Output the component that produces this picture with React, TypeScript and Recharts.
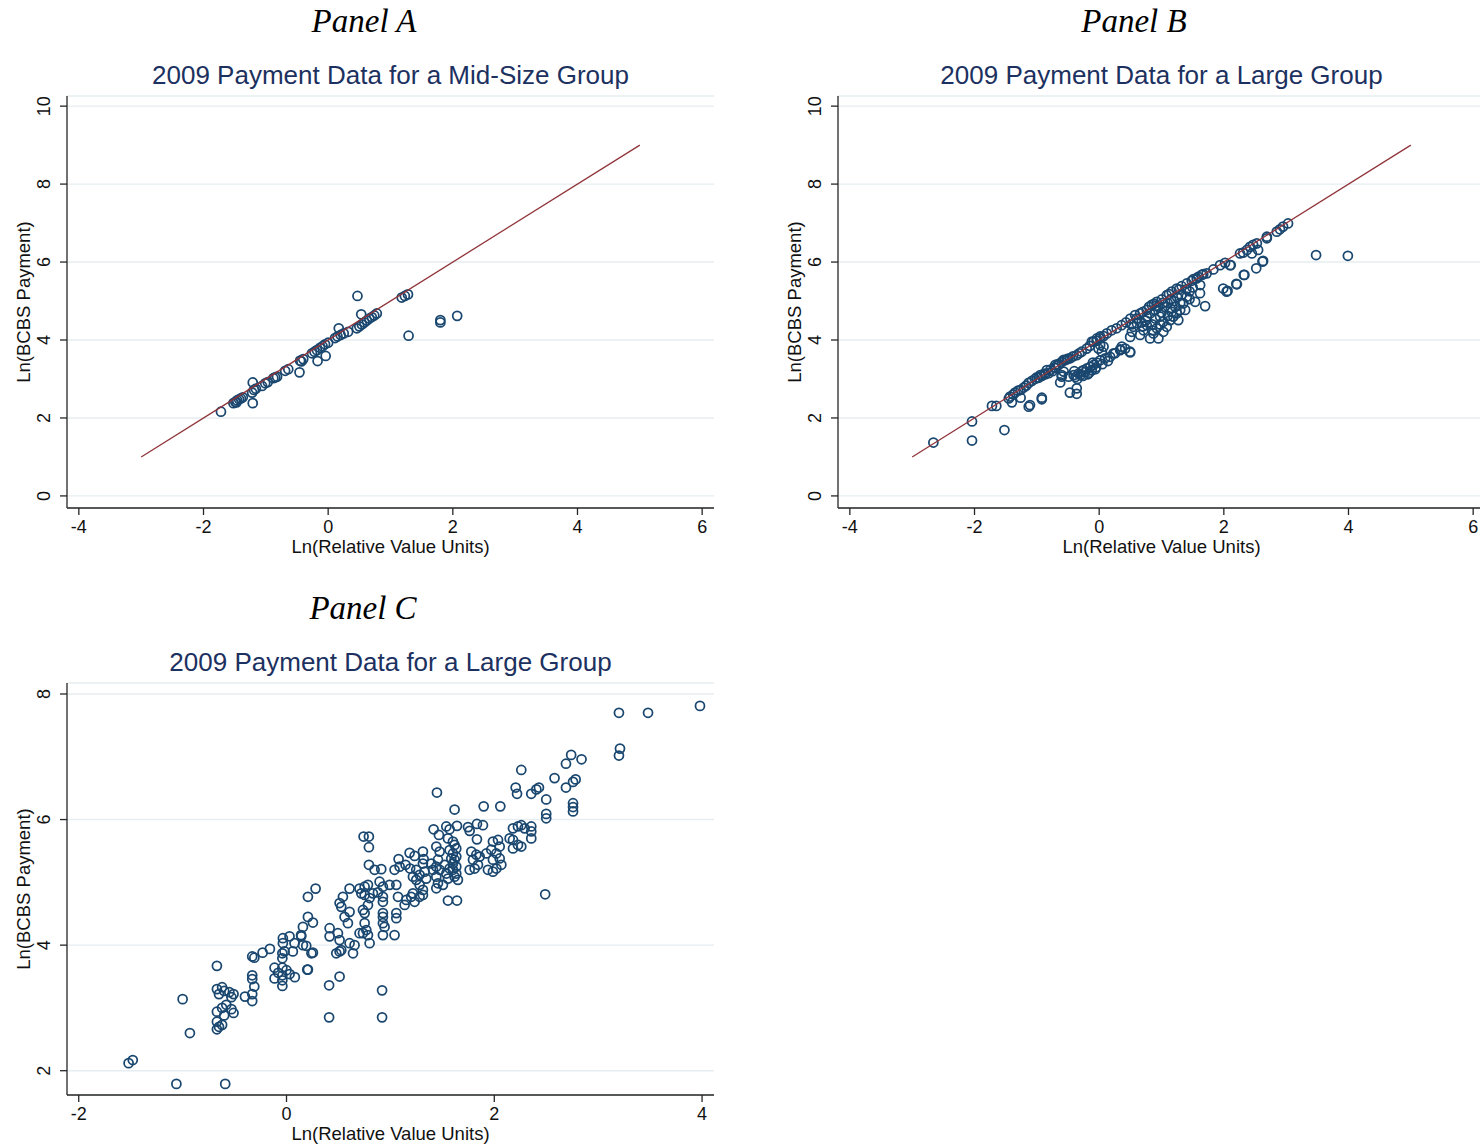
import React from 'react';
import { ScatterChart, Scatter, XAxis, YAxis, CartesianGrid } from 'recharts';

const NAVY = '#1a476f';
const MAROON = '#90353b';
const TITLE_COLOR = '#1c3160';
const GRID_COLOR = '#e6eef1';
const AXIS_COLOR = '#262626';
const SANS = '"Liberation Sans", Arial, Helvetica, sans-serif';
const SERIF = '"Liberation Serif", "Times New Roman", serif';

// fitted 45-degree line endpoints (Panels A and B)
const fitX = [-3, 5];
const fitY = [1, 9];

const ticksAB_X = [-4, -2, 0, 2, 4, 6];
const ticksAB_Y = [0, 2, 4, 6, 8, 10];
const ticksC_X = [-2, 0, 2, 4];
const ticksC_Y = [2, 4, 6, 8];

// Panel A: mid-size group
const panelAPoints: [number, number][] = [
  [-1.72, 2.16],
  [-1.52, 2.38], [-1.49, 2.41], [-1.46, 2.45], [-1.43, 2.48], [-1.40, 2.50], [-1.37, 2.53], [-1.47, 2.40],
  [-1.21, 2.91], [-1.21, 2.38], [-1.22, 2.65], [-1.19, 2.72], [-1.16, 2.75],
  [-1.06, 2.82], [-1.01, 2.89], [-0.97, 2.92],
  [-0.88, 3.02], [-0.82, 3.06], [-0.85, 3.04],
  [-0.69, 3.21], [-0.64, 3.25],
  [-0.46, 3.17],
  [-0.45, 3.47], [-0.40, 3.51], [-0.43, 3.45],
  [-0.26, 3.66], [-0.22, 3.70], [-0.18, 3.74], [-0.13, 3.80], [-0.09, 3.84], [-0.05, 3.89], [0.0, 3.93],
  [-0.17, 3.46], [-0.04, 3.59],
  [0.17, 4.30],
  [0.11, 4.05], [0.15, 4.09], [0.20, 4.13], [0.25, 4.17], [0.32, 4.21],
  [0.46, 4.30], [0.50, 4.35], [0.54, 4.40], [0.58, 4.45], [0.62, 4.50], [0.66, 4.55], [0.70, 4.59], [0.74, 4.63], [0.78, 4.68],
  [0.47, 5.13], [0.53, 4.66],
  [1.18, 5.09], [1.23, 5.13], [1.28, 5.17],
  [1.29, 4.11],
  [1.80, 4.51], [1.80, 4.45],
  [2.07, 4.62],
];

// Panel B: large group
const panelBPoints: [number, number][] = [
  [-2.66, 1.37], [-2.04, 1.91], [-2.04, 1.42], [-1.52, 1.69], [-1.72, 2.31], [-1.65, 2.31],
  [-1.43, 2.55], [-1.38, 2.60], [-1.35, 2.65], [-1.30, 2.70], [-1.26, 2.72], [-1.40, 2.40], [-1.26, 2.52], [-1.21, 2.78], [-1.17, 2.83], [-1.45, 2.50],
  [-1.13, 2.29], [-1.11, 2.33], [-0.92, 2.52], [-0.92, 2.48],
  [-1.13, 2.90], [-1.08, 2.95], [-1.03, 3.00], [-0.97, 3.03], [-0.92, 3.08], [-0.86, 3.12], [-0.81, 3.15], [-0.75, 3.20], [-0.70, 3.28], [-0.65, 3.36], [-0.60, 3.44], [-0.55, 3.48], [-0.50, 3.52],
  [-0.945, 3.10], [-0.84, 3.23], [-0.705, 3.36], [-0.57, 3.49], [-0.464, 3.53], [-0.36, 3.61], [-0.28, 3.70], [-0.20, 3.78], [-0.09, 3.96], [0.016, 4.04], [0.123, 4.17], [0.20, 4.25], [0.28, 4.30], [0.36, 4.38], [0.50, 4.55], [0.577, 4.64], [0.657, 4.68], [0.764, 4.77], [0.844, 4.90], [0.924, 4.98], [1.004, 5.04], [1.084, 5.15], [1.164, 5.24], [1.244, 5.32], [1.324, 5.38], [1.405, 5.45], [1.485, 5.52], [1.565, 5.58], [1.645, 5.67], [1.725, 5.71], [1.832, 5.81], [1.94, 5.92], [2.02, 5.98],
  [-0.15, 3.85], [-0.04, 3.98], [0.07, 4.10], [0.43, 4.45], [0.70, 4.72], [0.88, 4.93], [1.12, 5.18], [1.28, 5.30], [1.51, 5.56], [1.59, 5.62], [1.67, 5.69],
  [-0.625, 2.91], [-0.60, 3.10], [-0.57, 3.19], [-0.47, 2.65], [-0.36, 2.62], [-0.36, 2.76],
  [-0.60, 3.06], [-0.49, 3.06], [-0.41, 3.10], [-0.33, 3.14], [-0.25, 3.23], [-0.197, 3.27], [-0.144, 3.31], [-0.09, 3.36], [-0.037, 3.42], [0.016, 3.48], [0.096, 3.53], [0.176, 3.57], [0.257, 3.66], [0.337, 3.74], [0.417, 3.78], [0.497, 3.70],
  [-0.38, 3.05], [-0.30, 3.10], [-0.22, 3.18], [-0.12, 3.22], [-0.05, 3.30], [-0.28, 3.20], [-0.18, 3.12],
  [-0.35, 3.00], [-0.26, 3.08], [-0.16, 3.16], [-0.06, 3.25], [0.05, 3.38], [0.14, 3.46], [-0.40, 3.20], [-0.10, 3.42],
  [-0.117, 3.96], [-0.037, 4.04], [0.016, 4.09], [0.07, 3.83], [0.043, 3.70], [0.23, 3.66], [0.337, 3.76], [0.363, 3.83], [0.497, 3.68],
  [-0.01, 3.78], [0.016, 3.87],
  [-0.72, 3.30], [-0.66, 3.38], [-0.52, 3.50], [-0.42, 3.58], [-0.32, 3.66], [-1.00, 3.04], [-0.88, 3.14], [-0.78, 3.24],
  [0.497, 4.08], [0.524, 4.21], [0.55, 4.34], [0.604, 4.43], [0.657, 4.13], [0.71, 4.25], [0.764, 4.38], [0.817, 4.04], [0.87, 4.17], [0.924, 4.30], [0.95, 4.04], [1.03, 4.21], [1.084, 4.34], [1.03, 4.47], [1.14, 4.51], [1.19, 4.60], [1.244, 4.68], [1.30, 4.77], [1.27, 4.51], [1.164, 4.72], [1.35, 4.94], [1.405, 5.11], [1.54, 4.98], [1.618, 5.20], [1.70, 4.87], [1.38, 4.77], [0.764, 4.60], [0.817, 4.68], [0.897, 4.77], [0.95, 4.85], [0.977, 4.60],
  [0.52, 4.40], [0.60, 4.55], [0.68, 4.45], [0.75, 4.50], [0.85, 4.40], [0.90, 4.55], [1.00, 4.70], [1.05, 4.85], [1.10, 4.95], [1.20, 5.00], [1.25, 5.10], [1.32, 5.15], [1.45, 5.25], [1.50, 5.35], [0.85, 4.25], [0.98, 4.40], [1.10, 4.62], [1.22, 4.85],
  [0.80, 4.85], [0.92, 4.88], [1.02, 4.95], [1.15, 5.05], [1.40, 5.30], [0.70, 4.35], [1.15, 4.80], [1.30, 4.95], [1.45, 5.05],
  [1.62, 5.41], [2.10, 5.92], [1.99, 5.32], [2.06, 5.26], [2.20, 5.44], [2.33, 5.67], [2.52, 5.84], [2.63, 6.03],
  [2.26, 6.22], [2.31, 6.24], [2.37, 6.31], [2.42, 6.39], [2.47, 6.44], [2.53, 6.48], [2.55, 6.31], [2.45, 6.22],
  [2.69, 6.65], [2.69, 6.61], [2.85, 6.78], [2.90, 6.84], [2.95, 6.91], [3.03, 6.99],
  [3.48, 6.18], [3.99, 6.16],
  [2.045, 5.24], [2.21, 5.43], [2.32, 5.67], [2.11, 5.92], [2.62, 6.01],
];

// Panel C: large group, payment vs RVUs
const panelCPoints: [number, number][] = [
  [-1.52, 2.12], [-1.48, 2.17], [-1.06, 1.79], [-0.59, 1.79], [-1.0, 3.14], [-0.93, 2.60], [-0.67, 3.67],
  [-0.67, 3.30], [-0.62, 3.33], [-0.60, 3.27], [-0.65, 3.22], [-0.55, 3.25], [-0.51, 3.22], [-0.53, 3.17], [-0.67, 2.94], [-0.62, 3.0], [-0.60, 2.88], [-0.67, 2.78], [-0.65, 2.70], [-0.62, 2.73], [-0.67, 2.66], [-0.53, 2.98], [-0.51, 2.92], [-0.58, 3.05],
  [-0.40, 3.18], [-0.33, 3.52], [-0.33, 3.46], [-0.33, 3.22], [-0.33, 3.11], [-0.31, 3.34], [-0.31, 3.80], [-0.33, 3.82],
  [-0.23, 3.88], [-0.16, 3.94], [-0.115, 3.64], [-0.115, 3.47], [-0.08, 3.56],
  [-0.04, 3.87], [-0.04, 3.79], [-0.04, 3.64], [-0.04, 3.52], [-0.04, 3.44], [-0.04, 3.35], [0.0, 3.60], [0.03, 3.54], [0.08, 3.49],
  [0.14, 4.16], [0.19, 3.99], [0.24, 3.87], [0.20, 3.61],
  [0.158, 4.29], [0.142, 4.14], [0.158, 4.0], [0.077, 4.03], [0.061, 3.90], [0.029, 4.14], [-0.035, 4.11], [-0.035, 4.03], [-0.019, 3.90],
  [0.254, 3.88], [0.206, 3.61], [0.511, 3.50], [0.206, 4.77], [0.28, 4.90], [0.206, 4.45], [0.254, 4.36],
  [0.41, 3.36], [0.41, 2.85], [0.92, 3.28], [0.92, 2.85],
  [0.415, 4.27], [0.415, 4.14], [0.495, 4.19], [0.511, 4.08], [0.479, 3.87], [0.511, 3.90], [0.527, 3.92], [0.64, 3.87], [0.607, 4.03], [0.655, 4.0],
  [0.607, 4.90], [0.543, 4.77], [0.511, 4.67], [0.527, 4.61], [0.559, 4.45], [0.607, 4.53], [0.591, 4.35],
  [0.736, 4.56], [0.752, 4.51], [0.784, 4.64], [0.752, 4.35], [0.768, 4.24], [0.736, 4.19], [0.784, 4.16], [0.80, 4.03], [0.703, 4.19],
  [0.703, 4.90], [0.752, 4.93], [0.784, 4.96], [0.72, 4.825], [0.752, 4.80], [0.80, 4.75], [0.832, 4.825],
  [0.742, 5.73], [0.793, 5.73], [0.793, 5.56], [0.793, 5.28], [0.848, 5.20], [0.912, 5.21],
  [0.896, 5.01], [0.928, 4.93], [0.992, 4.96], [0.88, 4.84], [0.928, 4.77], [0.928, 4.69], [0.928, 4.51], [0.928, 4.45], [0.928, 4.35], [0.944, 4.29], [0.928, 4.16],
  [1.057, 4.96], [1.073, 4.77], [1.057, 4.51], [1.057, 4.43], [1.04, 4.16],
  [1.079, 5.37], [1.185, 5.47], [1.233, 5.42], [1.313, 5.49], [1.32, 5.37], [1.313, 5.30],
  [1.04, 5.20], [1.089, 5.25], [1.146, 5.28], [1.19, 5.22], [1.249, 5.20], [1.281, 5.12], [1.33, 5.17], [1.345, 5.06], [1.394, 5.30], [1.41, 5.20],
  [1.217, 5.09], [1.249, 5.04], [1.281, 4.96], [1.313, 4.88], [1.217, 4.825], [1.20, 4.77], [1.233, 4.69], [1.153, 4.72], [1.137, 4.64], [1.281, 4.77], [1.313, 4.80],
  [1.442, 5.57], [1.474, 5.49], [1.458, 5.36], [1.442, 5.25], [1.474, 5.20], [1.442, 5.09], [1.458, 4.985], [1.442, 4.905], [1.506, 4.96], [1.522, 5.28],
  [1.602, 5.65], [1.618, 5.595], [1.634, 5.54], [1.602, 5.46], [1.634, 5.41], [1.618, 5.36], [1.602, 5.30], [1.634, 5.25], [1.602, 5.20], [1.634, 5.14], [1.618, 5.09], [1.65, 5.04],
  [1.57, 5.515], [1.586, 5.38], [1.57, 5.22], [1.538, 5.14], [1.554, 5.06], [1.554, 4.71], [1.641, 4.71],
  [1.416, 5.845], [1.467, 5.755], [1.538, 5.89], [1.554, 5.70], [1.57, 5.845], [1.641, 5.90], [1.747, 5.88], [1.763, 5.82], [1.833, 5.93], [1.891, 5.91], [1.833, 5.685],
  [1.779, 5.49], [1.827, 5.44], [1.859, 5.41], [1.795, 5.36], [1.843, 5.28], [1.763, 5.20], [1.811, 5.22], [1.923, 5.46], [1.939, 5.20],
  [1.987, 5.65], [2.036, 5.675], [2.052, 5.57], [2.02, 5.46], [1.987, 5.36], [2.052, 5.38], [2.02, 5.22], [1.987, 5.17], [2.068, 5.28], [1.971, 5.52],
  [2.18, 5.86], [2.228, 5.89], [2.26, 5.91], [2.292, 5.86], [2.356, 5.89], [2.356, 5.81], [2.356, 5.70], [2.18, 5.675], [2.228, 5.595], [2.26, 5.57], [2.18, 5.54], [2.148, 5.70],
  [1.448, 6.43], [1.618, 6.16], [1.898, 6.21], [2.058, 6.21], [2.206, 6.51], [2.219, 6.41], [2.356, 6.41], [2.405, 6.48], [2.43, 6.51],
  [2.50, 6.32], [2.50, 6.09], [2.50, 6.02], [2.58, 6.66], [2.69, 6.51], [2.758, 6.60], [2.783, 6.64], [2.758, 6.26], [2.758, 6.20], [2.758, 6.13],
  [2.49, 4.81], [2.26, 6.79],
  [2.84, 6.96], [2.74, 7.03], [2.69, 6.89], [3.20, 7.70], [3.20, 7.02], [3.21, 7.13], [3.48, 7.70], [3.98, 7.81],
];

type Pt = { x: number; y: number };
const toData = (pts: [number, number][]): Pt[] => pts.map(([x, y]) => ({ x, y }));
const fitData: Pt[] = fitX.map((x, i) => ({ x, y: fitY[i] }));

const YTick = (props: any) => {
  const { x, y, payload } = props;
  return (
    <text
      transform={`translate(${x - 14},${y}) rotate(-90)`}
      textAnchor="middle"
      dominantBaseline="central"
      fill="#111"
      fontSize={18}
      fontFamily={SANS}
    >
      {payload.value}
    </text>
  );
};

const Hollow = (props: any) => (
  <circle cx={props.cx} cy={props.cy} r={4.5} fill="none" stroke={NAVY} strokeWidth={1.75} />
);

interface PanelProps {
  left: number;
  top: number;
  height: number;
  marginTop: number;
  xAxisHeight: number;
  points: Pt[];
  xDomain: [number, number];
  yDomain: [number, number];
  xTicks: number[];
  yTicks: number[];
  showFit: boolean;
}

const Panel: React.FC<PanelProps> = ({ left, top, height, marginTop, xAxisHeight, points, xDomain, yDomain, xTicks, yTicks, showFit }) => (
  <div style={{ position: 'absolute', left, top }}>
    <ScatterChart width={740} height={height} margin={{ top: marginTop, right: 26, bottom: 0, left: 0 }}>
      <CartesianGrid horizontal vertical={false} stroke={GRID_COLOR} strokeWidth={1.4} />
      <XAxis
        type="number"
        dataKey="x"
        domain={xDomain}
        ticks={xTicks}
        allowDataOverflow
        height={xAxisHeight}
        tickSize={7}
        tickMargin={5}
        stroke={AXIS_COLOR}
        strokeWidth={1.3}
        tick={{ fill: '#111', fontSize: 18, fontFamily: SANS }}
      />
      <YAxis
        type="number"
        dataKey="y"
        domain={yDomain}
        ticks={yTicks}
        allowDataOverflow
        width={67}
        tickSize={7}
        stroke={AXIS_COLOR}
        strokeWidth={1.3}
        tick={(p: any) => <YTick {...p} />}
      />
      <Scatter data={points} shape={Hollow} isAnimationActive={false} />
      {showFit && (
        <Scatter
          data={fitData}
          line={{ stroke: MAROON, strokeWidth: 1.3 }}
          shape={() => <g />}
          isAnimationActive={false}
        />
      )}
    </ScatterChart>
  </div>
);

const panelText = [
  { label: 'Panel A', labelX: 364, labelY: 32, title: '2009 Payment Data for a Mid-Size Group', titleX: 390.5, titleY: 84, xLabelY: 553, yLabelX: 30, yLabelY: 302 },
  { label: 'Panel B', labelX: 1134, labelY: 32, title: '2009 Payment Data for a Large Group', titleX: 1161.5, titleY: 84, xLabelY: 553, yLabelX: 801, yLabelY: 302 },
  { label: 'Panel C', labelX: 363, labelY: 619, title: '2009 Payment Data for a Large Group', titleX: 390.5, titleY: 671, xLabelY: 1140, yLabelX: 30, yLabelY: 889 },
];

export default function App() {
  return (
    <div style={{ position: 'absolute', left: 0, top: 0, width: 1480, height: 1148, overflow: 'hidden', background: '#fff' }}>
      <Panel
        left={0} top={0} height={570} marginTop={96} xAxisHeight={62}
        points={toData(panelAPoints)} xDomain={[-4.19, 6.19]} yDomain={[-0.31, 10.26]}
        xTicks={ticksAB_X} yTicks={ticksAB_Y} showFit
      />
      <Panel
        left={771} top={0} height={570} marginTop={96} xAxisHeight={62}
        points={toData(panelBPoints)} xDomain={[-4.19, 6.19]} yDomain={[-0.31, 10.26]}
        xTicks={ticksAB_X} yTicks={ticksAB_Y} showFit
      />
      <Panel
        left={0} top={580} height={568} marginTop={103} xAxisHeight={53}
        points={toData(panelCPoints)} xDomain={[-2.113, 4.115]} yDomain={[1.613, 8.175]}
        xTicks={ticksC_X} yTicks={ticksC_Y} showFit={false}
      />
      <svg width={1480} height={1148} style={{ position: 'absolute', left: 0, top: 0, pointerEvents: 'none' }}>
        {panelText.map((p) => (
          <g key={p.label}>
            <text x={p.labelX} y={p.labelY} textAnchor="middle" fontFamily={SERIF} fontStyle="italic" fontSize={33} fill="#000">
              {p.label}
            </text>
            <text x={p.titleX} y={p.titleY} textAnchor="middle" fontFamily={SANS} fontSize={26} fill={TITLE_COLOR}>
              {p.title}
            </text>
            <text x={p.titleX} y={p.xLabelY} textAnchor="middle" fontFamily={SANS} fontSize={18.5} fill="#111">
              Ln(Relative Value Units)
            </text>
            <text
              transform={`translate(${p.yLabelX},${p.yLabelY}) rotate(-90)`}
              textAnchor="middle"
              fontFamily={SANS}
              fontSize={18.5}
              fill="#111"
            >
              Ln(BCBS Payment)
            </text>
          </g>
        ))}
      </svg>
    </div>
  );
}
